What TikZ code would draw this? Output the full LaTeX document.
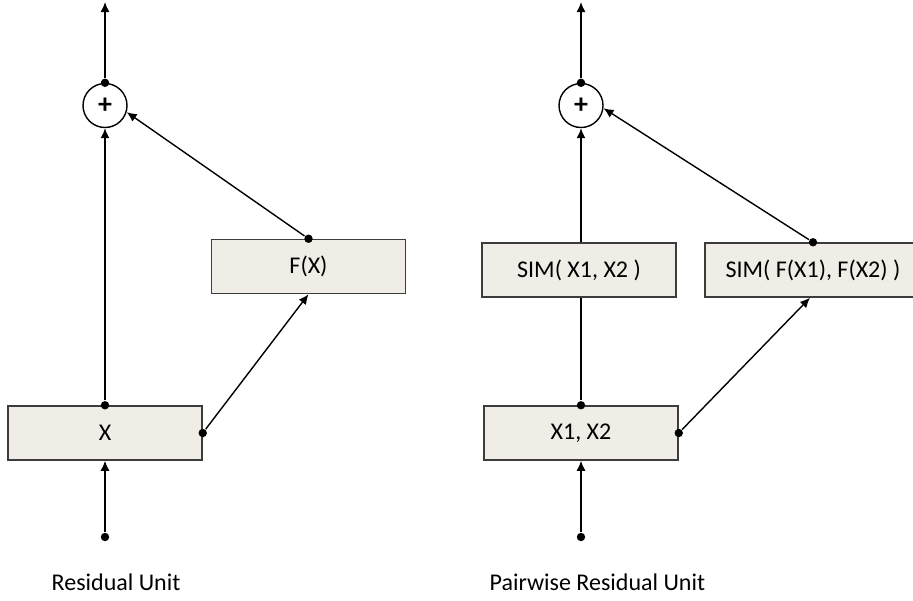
\documentclass[tikz,border=0pt]{standalone}
\usepackage{fontspec}
\setmainfont{Carlito}
\usetikzlibrary{arrows.meta}
\definecolor{unitfill}{RGB}{240,237,230}
\definecolor{unitline}{RGB}{60,60,60}

\begin{document}
\begin{tikzpicture}
	[> = {Latex[length=5pt,width=4.5pt]},
	x=0.5pt, y=-0.5pt, line width=0.7pt,
	every node/.style={font=\fontsize{12}{14}\selectfont},
	unit/.style = {draw=unitline, fill=unitfill, line width=0.75pt, minimum width=97pt, minimum height=27pt, inner sep=0pt},
	sum/.style = {draw, circle, minimum size=22pt, inner sep=0pt, font=\fontsize{14}{14}\selectfont\bfseries},
	dot/.style = {fill, circle, inner sep=0pt, minimum size=4.2pt}
	]
	\useasboundingbox (0,0) rectangle (913,600);
	\clip (0,0) rectangle (913,600);

	% plain residual unit
	\coordinate (outA) at (105,2);
	\node[sum] (sumA) at (105,105.5) {+};
	\node[unit] (fx) at (308.5,266.5) {F(X)};
	\node[unit] (x) at (105,433) {X};
	\node[dot] (inA) at (105,537) {};
	\node[dot] (xtop) at (x.north) {};
	\node[dot] (xright) at (x.east) {};
	\node[dot] (fxtop) at (fx.north) {};
	\node[dot] (sumAtop) at (sumA.north) {};

	\draw[->] (inA) -- (x.south);
	\draw[->] (xtop) -- (sumA.south);
	\draw[->] (xright) -- (fx.south);
	\draw[->] (fxtop) -- (sumA.-17);
	\draw[->] (sumAtop) -- (outA);
	\node[anchor=west, inner sep=0pt] (capA) at (51,582) {Residual Unit};

	% pairwise residual unit
	\coordinate (outB) at (581,2);
	\node[sum] (sumB) at (581,105.5) {+};
	\node[unit] (simx) at (579,270) {SIM( X1, X2 )};
	\node[unit, minimum width=108pt] (simf) at (813,270) {SIM( F(X1), F(X2) )};
	\node[unit] (xx) at (581,433) {X1, X2};
	\node[dot] (inB) at (581,537) {};
	\node[dot] (xxtop) at (xx.north) {};
	\node[dot] (xxright) at (xx.east) {};
	\node[dot] (simftop) at (simf.north) {};
	\node[dot] (sumBtop) at (sumB.north) {};

	\draw[->] (inB) -- (xx.south);
	\draw (xxtop) -- (xxtop |- simx.south);
	\draw[->] (xxtop |- simx.north) -- (sumB.south);
	\draw[->] (xxright) -- ([xshift=-1.5pt]simf.south);
	\draw[->] (simftop) -- (sumB.-7);
	\draw[->] (sumBtop) -- (outB);
	\node[anchor=west, inner sep=0pt] (capB) at (489,582) {Pairwise Residual Unit};
\end{tikzpicture}
\end{document}
